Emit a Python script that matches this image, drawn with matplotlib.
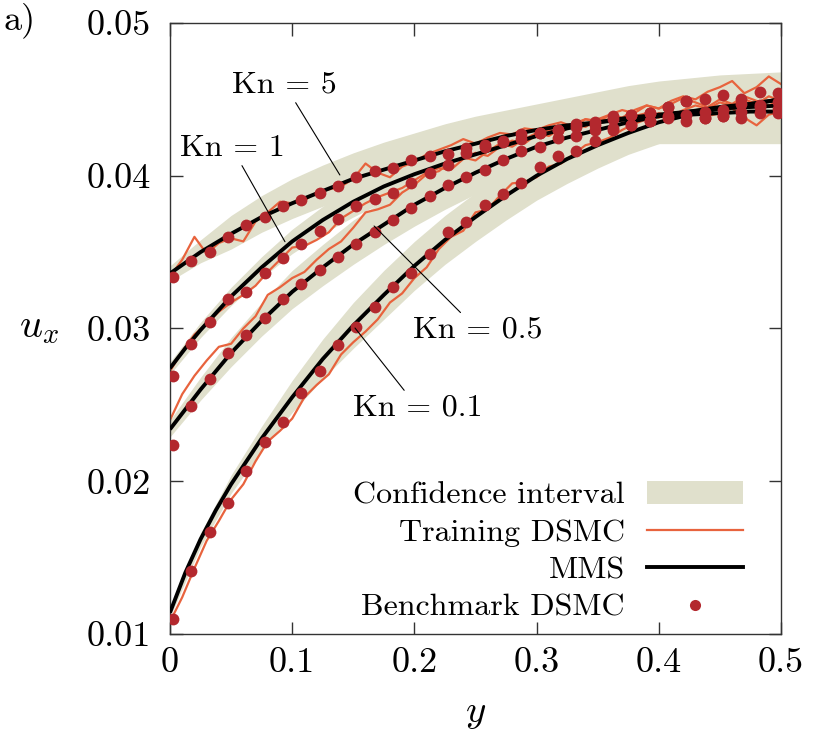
import numpy as np
import matplotlib
matplotlib.use("Agg")
import matplotlib.pyplot as plt
from matplotlib.patches import Patch
from matplotlib.lines import Line2D

plt.rcParams['font.family'] = 'serif'
plt.rcParams['font.serif'] = ['cmr10', 'DejaVu Serif']
plt.rcParams['mathtext.fontset'] = 'cm'
plt.rcParams['axes.unicode_minus'] = False

# MMS solution
y_mms = [0, 0.0125, 0.025, 0.0375, 0.05, 0.075, 0.1, 0.125, 0.15, 0.175, 0.2, 0.225, 0.25,
         0.275, 0.3, 0.325, 0.35, 0.375, 0.4, 0.425, 0.45, 0.475, 0.5]
mms_kn5 = [0.0336, 0.0343, 0.0350, 0.0356, 0.0362, 0.0373, 0.0382, 0.0390, 0.0398, 0.0404, 0.0410,
           0.0416, 0.0421, 0.0426, 0.0430, 0.0433, 0.0435, 0.0437, 0.0439, 0.0440, 0.0441, 0.0442, 0.0442]
mms_kn1 = [0.0274, 0.0287, 0.0299, 0.0310, 0.0321, 0.0340, 0.0357, 0.0371, 0.0383, 0.0393, 0.0401,
           0.0408, 0.0414, 0.0420, 0.0426, 0.0431, 0.0435, 0.0438, 0.0440, 0.0442, 0.0444, 0.0445, 0.0446]
mms_kn05 = [0.0234, 0.0247, 0.0260, 0.0272, 0.0284, 0.0305, 0.0324, 0.0340, 0.0355, 0.0368, 0.0381,
            0.0392, 0.0402, 0.0411, 0.0419, 0.0425, 0.0430, 0.0435, 0.0439, 0.0442, 0.0445, 0.0447, 0.0450]
mms_kn01 = [0.0114, 0.0140, 0.0162, 0.0181, 0.0198, 0.0228, 0.0255, 0.0280, 0.0302, 0.0322, 0.0341,
            0.0358, 0.0373, 0.0387, 0.0400, 0.0411, 0.0420, 0.0428, 0.0435, 0.0440, 0.0444, 0.0447, 0.0450]

# confidence interval bounds, y = 0 ... 0.5 every 0.025
y_ci = np.linspace(0, 0.5, 21)
ci_kn5_lo = [0.0331, 0.0343, 0.0352, 0.0363, 0.0372, 0.0380, 0.0388, 0.0394, 0.0400, 0.0405, 0.0410,
             0.0414, 0.0417, 0.0419, 0.0420, 0.0421, 0.0421, 0.0421, 0.0421, 0.0421, 0.0421]
ci_kn5_hi = [0.0341, 0.0358, 0.0374, 0.0387, 0.0398, 0.0407, 0.0415, 0.0422, 0.0428, 0.0434, 0.0439,
             0.0443, 0.0447, 0.0451, 0.0455, 0.0459, 0.0462, 0.0464, 0.0466, 0.0467, 0.0468]
ci_kn1_lo = [0.0270, 0.0294, 0.0315, 0.0333, 0.0349, 0.0362, 0.0373, 0.0383, 0.0391, 0.0398, 0.0404,
             0.0410, 0.0416, 0.0421, 0.0425, 0.0428, 0.0430, 0.0432, 0.0434, 0.0435, 0.0436]
ci_kn1_hi = [0.0278, 0.0304, 0.0327, 0.0347, 0.0365, 0.0380, 0.0393, 0.0403, 0.0411, 0.0418, 0.0424,
             0.0430, 0.0436, 0.0441, 0.0445, 0.0448, 0.0450, 0.0452, 0.0454, 0.0455, 0.0456]
ci_kn05_lo = [0.0229, 0.0253, 0.0275, 0.0295, 0.0313, 0.0328, 0.0342, 0.0355, 0.0367, 0.0378, 0.0388,
              0.0397, 0.0405, 0.0412, 0.0418, 0.0423, 0.0428, 0.0432, 0.0435, 0.0437, 0.0440]
ci_kn05_hi = [0.0240, 0.0268, 0.0294, 0.0317, 0.0338, 0.0355, 0.0371, 0.0384, 0.0396, 0.0406, 0.0415,
              0.0422, 0.0429, 0.0435, 0.0440, 0.0445, 0.0449, 0.0452, 0.0455, 0.0457, 0.0460]
ci_kn01_lo = [0.0111, 0.0157, 0.0192, 0.0220, 0.0245, 0.0267, 0.0287, 0.0306, 0.0325, 0.0342, 0.0357,
              0.0371, 0.0384, 0.0395, 0.0405, 0.0414, 0.0421, 0.0427, 0.0431, 0.0434, 0.0436]
ci_kn01_hi = [0.0117, 0.0166, 0.0204, 0.0236, 0.0266, 0.0293, 0.0317, 0.0338, 0.0357, 0.0374, 0.0389,
              0.0403, 0.0416, 0.0427, 0.0436, 0.0444, 0.0451, 0.0456, 0.0460, 0.0463, 0.0466]

# training DSMC, y = 0 ... 0.5 every 0.01
y_train = np.linspace(0, 0.5, 51)
train_kn5 = [0.0334, 0.0345, 0.0360, 0.0349, 0.0356, 0.0359, 0.0357, 0.0370, 0.0376, 0.0383,
             0.0382, 0.0384, 0.0389, 0.0391, 0.0393, 0.0398, 0.0408, 0.0402, 0.0399, 0.0406,
             0.0409, 0.0414, 0.0417, 0.0420, 0.0424, 0.0421, 0.0425, 0.0428, 0.0427, 0.0431,
             0.0430, 0.0433, 0.0435, 0.0432, 0.0437, 0.0436, 0.0437, 0.0436, 0.0439, 0.0441,
             0.0438, 0.0442, 0.0440, 0.0443, 0.0439, 0.0441, 0.0444, 0.0438, 0.0433, 0.0440, 0.0442]
train_kn1 = [0.0272, 0.0285, 0.0296, 0.0303, 0.0311, 0.0317, 0.0322, 0.0328, 0.0337, 0.0345,
             0.0353, 0.0354, 0.0358, 0.0363, 0.0372, 0.0377, 0.0382, 0.0386, 0.0389, 0.0392,
             0.0397, 0.0402, 0.0405, 0.0404, 0.0411, 0.0415, 0.0413, 0.0419, 0.0423, 0.0421,
             0.0427, 0.0430, 0.0428, 0.0434, 0.0437, 0.0435, 0.0440, 0.0443, 0.0441, 0.0446,
             0.0444, 0.0449, 0.0452, 0.0450, 0.0455, 0.0458, 0.0462, 0.0454, 0.0458, 0.0465, 0.0460]
train_kn05 = [0.0240, 0.0257, 0.0269, 0.0279, 0.0288, 0.0290, 0.0300, 0.0308, 0.0322, 0.0327,
              0.0333, 0.0337, 0.0345, 0.0352, 0.0357, 0.0366, 0.0376, 0.0378, 0.0381, 0.0389,
              0.0394, 0.0401, 0.0403, 0.0409, 0.0412, 0.0410, 0.0416, 0.0421, 0.0419, 0.0424,
              0.0428, 0.0426, 0.0431, 0.0434, 0.0432, 0.0437, 0.0440, 0.0438, 0.0443, 0.0446,
              0.0444, 0.0447, 0.0451, 0.0448, 0.0445, 0.0450, 0.0447, 0.0452, 0.0449, 0.0446, 0.0450]
train_kn01 = [0.0108, 0.0124, 0.0143, 0.0161, 0.0174, 0.0188, 0.0198, 0.0213, 0.0226, 0.0233,
              0.0241, 0.0255, 0.0263, 0.0270, 0.0283, 0.0291, 0.0298, 0.0306, 0.0317, 0.0323,
              0.0333, 0.0340, 0.0352, 0.0360, 0.0364, 0.0376, 0.0378, 0.0387, 0.0395, 0.0396,
              0.0399, 0.0406, 0.0408, 0.0414, 0.0420, 0.0422, 0.0425, 0.0430, 0.0434, 0.0437,
              0.0441, 0.0439, 0.0443, 0.0446, 0.0444, 0.0448, 0.0446, 0.0450, 0.0447, 0.0452, 0.0449]

# benchmark DSMC, every 0.015 starting at 0.0025
y_bench = np.linspace(0.0025, 0.4975, 34)
bench_kn5 = [0.0334, 0.0344, 0.0350, 0.0360, 0.0368, 0.0373, 0.0380, 0.0384, 0.0389, 0.0393, 0.0399,
             0.0403, 0.0405, 0.0410, 0.0413, 0.0414, 0.0418, 0.0420, 0.0423, 0.0427, 0.0428, 0.0430,
             0.0434, 0.0435, 0.0437, 0.0440, 0.0436, 0.0439, 0.0436, 0.0438, 0.0439, 0.0438, 0.0441, 0.0441]
bench_kn1 = [0.0269, 0.0290, 0.0304, 0.0319, 0.0324, 0.0336, 0.0346, 0.0355, 0.0364, 0.0372, 0.0380,
             0.0385, 0.0389, 0.0395, 0.0402, 0.0407, 0.0415, 0.0419, 0.0422, 0.0424, 0.0428, 0.0430,
             0.0432, 0.0433, 0.0439, 0.0440, 0.0441, 0.0445, 0.0449, 0.0442, 0.0443, 0.0447, 0.0445, 0.0448]
bench_kn05 = [0.0224, 0.0249, 0.0267, 0.0284, 0.0296, 0.0307, 0.0319, 0.0329, 0.0338, 0.0347, 0.0355,
              0.0363, 0.0371, 0.0379, 0.0387, 0.0394, 0.0399, 0.0404, 0.0410, 0.0416, 0.0419, 0.0425,
              0.0426, 0.0430, 0.0431, 0.0433, 0.0441, 0.0445, 0.0449, 0.0450, 0.0453, 0.0450, 0.0455, 0.0454]
bench_kn01 = [0.0110, 0.0141, 0.0167, 0.0186, 0.0207, 0.0226, 0.0239, 0.0258, 0.0272, 0.0289, 0.0301,
              0.0314, 0.0327, 0.0336, 0.0349, 0.0363, 0.0370, 0.0381, 0.0388, 0.0395, 0.0406, 0.0413,
              0.0416, 0.0423, 0.0430, 0.0433, 0.0436, 0.0438, 0.0440, 0.0438, 0.0439, 0.0442, 0.0446, 0.0444]

xticks = [0, 0.1, 0.2, 0.3, 0.4, 0.5]
xticklabels = ['0', '0.1', '0.2', '0.3', '0.4', '0.5']
yticks = [0.01, 0.02, 0.03, 0.04, 0.05]
yticklabels = ['0.01', '0.02', '0.03', '0.04', '0.05']

c_band = '#e0e0cc'
c_train = '#e8633d'
c_bench = '#b3282e'

fig = plt.figure(figsize=(8.3, 7.37), dpi=100)
ax = fig.add_axes([0.2048, 0.1398, 0.7362, 0.829])

bands = [(ci_kn5_lo, ci_kn5_hi), (ci_kn1_lo, ci_kn1_hi), (ci_kn05_lo, ci_kn05_hi), (ci_kn01_lo, ci_kn01_hi)]
for lo, hi in bands:
    ax.fill_between(y_ci, lo, hi, color=c_band, lw=0, zorder=1)
for tr in [train_kn5, train_kn1, train_kn05, train_kn01]:
    ax.plot(y_train, tr, color=c_train, lw=1.6, zorder=2)
for m in [mms_kn5, mms_kn1, mms_kn05, mms_kn01]:
    ax.plot(y_mms, m, color='black', lw=2.8, zorder=3, solid_capstyle='butt')
for b in [bench_kn5, bench_kn1, bench_kn05, bench_kn01]:
    ax.plot(y_bench, b, 'o', color=c_bench, ms=8.5, mec='none', zorder=4)

# Knudsen labels with leader lines
kn_labels = [('Kn = 5', (0.139, 0.04005), (0.094, 0.04594)),
             ('Kn = 1', (0.0941, 0.03568), (0.0507, 0.04182)),
             ('Kn = 0.5', (0.167, 0.03671), (0.252, 0.0299)),
             ('Kn = 0.1', (0.1514, 0.03003), (0.203, 0.0248))]
for txt, xy, xyt in kn_labels:
    ax.annotate(txt, xy=xy, xytext=xyt, fontsize=23, ha='center', va='center', zorder=6,
                arrowprops=dict(arrowstyle='-', lw=0.8, color='black', shrinkA=1, shrinkB=0))

ax.set_xlim(0, 0.5)
ax.set_ylim(0.01, 0.05)
ax.set_xticks(xticks)
ax.set_xticklabels(xticklabels)
ax.set_yticks(yticks)
ax.set_yticklabels(yticklabels)
ax.tick_params(direction='in', top=True, right=True, length=9, width=1, labelsize=26, color='#333333')
ax.tick_params(axis='x', pad=10)
ax.tick_params(axis='y', pad=14)
for s in ax.spines.values():
    s.set_linewidth(1.0)
    s.set_color('#333333')

ax.set_xlabel(r'$y$', fontsize=28)
ax.xaxis.set_label_coords(0.5, -0.1)
ax.set_ylabel(r'$u_x$', fontsize=29, rotation=0, ha='center', va='center')
ax.yaxis.set_label_coords(-0.215, 0.5)

fig.text(0.004, 0.972, 'a)', fontsize=26, ha='left', va='center')

handles = [Patch(facecolor=c_band, edgecolor='none'),
           Line2D([], [], color=c_train, lw=1.6),
           Line2D([], [], color='black', lw=2.8),
           Line2D([], [], marker='o', ls='none', color=c_bench, ms=8, mec='none')]
labels = ['Confidence interval', 'Training DSMC', 'MMS', 'Benchmark DSMC']
ax.legend(handles, labels, loc='lower right', bbox_to_anchor=(0.938, 0.02), frameon=False,
          markerfirst=False, fontsize=23, handlelength=3.0, handletextpad=0.7,
          labelspacing=0.28, borderpad=0, borderaxespad=0, numpoints=1)

fig.savefig('out.png', dpi=100)
